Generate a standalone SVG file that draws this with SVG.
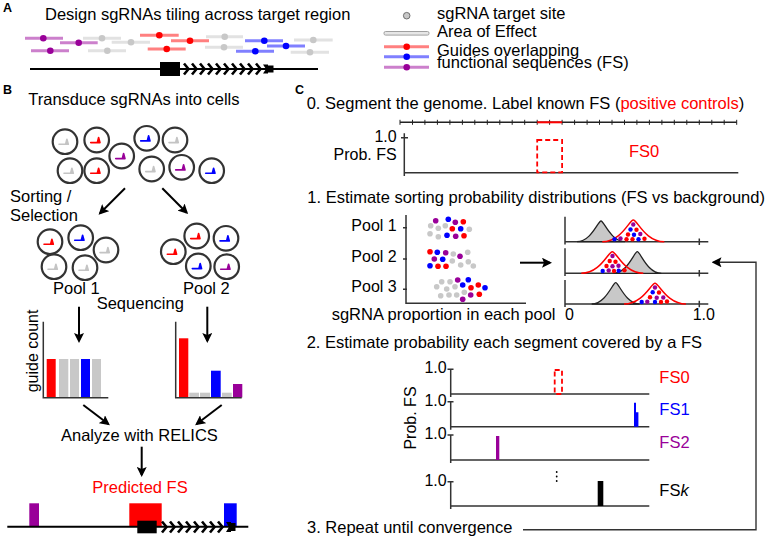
<svg xmlns="http://www.w3.org/2000/svg" xmlns:xlink="http://www.w3.org/1999/xlink" width="768" height="539" viewBox="0 0 768 539">
<defs>
<style>
text{font-family:"Liberation Sans",Arial,sans-serif;font-size:16.5px;fill:#000}
.lab{font-weight:bold;font-size:12.5px}
.sm{font-size:16px}
.ax{stroke:#333;stroke-width:1.5;fill:none}
.cell{fill:#fff;stroke:#333;stroke-width:2.2}
.r{color:#ff0000}.b{color:#0000ff}.p{color:#990099}.g{color:#c4c4c4}
.dr{fill:#ff0000}.db{fill:#0000ff}.dp{fill:#990099}.dg{fill:#c8c8c8}
.lr{stroke:#ff8080}.lb{stroke:#8080ff}.lp{stroke:#cc80cc}.lg{stroke:#e2e2e2}
.gl line{stroke-width:3}
.arr{stroke:#000;stroke-width:2;fill:none;marker-end:url(#ah)}
.dash{fill:none;stroke:#ff0000;stroke-width:1.8;stroke-dasharray:5,3}
.gray{fill:#c8c8c8;stroke:#222;stroke-width:1.3}
.redc{fill:none;stroke:#ff0000;stroke-width:1.5}
</style>
<marker id="ah" viewBox="0 0 10 10" refX="8" refY="5" markerWidth="10" markerHeight="10" markerUnits="userSpaceOnUse" orient="auto">
<path d="M0,0 L10,5 L0,10 L2,5 z" fill="#000"/>
</marker>
<g id="gl"><path d="M-6,2.3 H0.6 L1.9,-2.8 L3.3,2.3 z" fill="currentColor" stroke="currentColor" stroke-width="1.6" stroke-linejoin="round"/></g>
<g id="chev"><path d="M0,-5.5 L4.5,0 L0,5.5" fill="none" stroke="#000" stroke-width="2.6"/></g>
</defs>

<text class="lab" x="3" y="11.7">A</text>
<text class="lab" x="3" y="94">B</text>
<text class="lab" x="295" y="94">C</text>

<g id="panelA">
<text x="45" y="19.5">Design sgRNAs tiling across target region</text>
<g id="guidesA" class="gl">
<line class="lp" x1="25" y1="38.3" x2="63" y2="38.3"/><circle class="dp" cx="43.3" cy="38.3" r="3.3"/>
<line class="lp" x1="60" y1="42.7" x2="97.7" y2="42.7"/><circle class="dp" cx="78.7" cy="42.7" r="3.3"/>
<line class="lp" x1="31" y1="50.7" x2="69" y2="50.7"/><circle class="dp" cx="50.3" cy="50.7" r="3.3"/>
<line class="lg" x1="83" y1="38.3" x2="121" y2="38.3"/><circle class="dg" cx="102" cy="38.3" r="3.3"/>
<line class="lg" x1="111.7" y1="42.3" x2="150" y2="42.3"/><circle class="dg" cx="131" cy="42.3" r="3.3"/>
<line class="lg" x1="88" y1="50.7" x2="126" y2="50.7"/><circle class="dg" cx="107.3" cy="50.7" r="3.3"/>
<line class="lr" x1="140" y1="35.3" x2="178.7" y2="35.3"/><circle class="dr" cx="159.3" cy="35.3" r="3.3"/>
<line class="lr" x1="171" y1="40.7" x2="209" y2="40.7"/><circle class="dr" cx="190" cy="40.7" r="3.3"/>
<line class="lr" x1="147.7" y1="49" x2="185.7" y2="49"/><circle class="dr" cx="166.7" cy="49" r="3.3"/>
<line class="lg" x1="206" y1="36.7" x2="243" y2="36.7"/><circle class="dg" cx="224.7" cy="36.7" r="3.3"/>
<line class="lg" x1="205" y1="47.3" x2="243" y2="47.3"/><circle class="dg" cx="224" cy="47.3" r="3.3"/>
<line class="lb" x1="245" y1="40.7" x2="283" y2="40.7"/><circle class="db" cx="264.3" cy="40.7" r="3.3"/>
<line class="lb" x1="267" y1="46" x2="305" y2="46"/><circle class="db" cx="286" cy="46" r="3.3"/>
<line class="lb" x1="236" y1="51.3" x2="274" y2="51.3"/><circle class="db" cx="255.3" cy="51.3" r="3.3"/>
<line class="lg" x1="294" y1="40" x2="332.7" y2="40"/><circle class="dg" cx="313.3" cy="40" r="3.3"/>
<line class="lg" x1="290.7" y1="52.3" x2="329" y2="52.3"/><circle class="dg" cx="310" cy="52.3" r="3.3"/>
</g>
<g id="geneA">
<line x1="30" y1="69" x2="318" y2="69" stroke="#000" stroke-width="2"/>
<rect x="160" y="62" width="20" height="14" fill="#000"/>
<use href="#chev" x="184" y="69"/><use href="#chev" x="192" y="69"/><use href="#chev" x="200" y="69"/><use href="#chev" x="208" y="69"/><use href="#chev" x="216" y="69"/><use href="#chev" x="224" y="69"/><use href="#chev" x="232" y="69"/><use href="#chev" x="240" y="69"/><use href="#chev" x="248" y="69"/><use href="#chev" x="256" y="69"/>
<path d="M263,64.5 L268,64.5 L268,65.5 L273.5,65.5 L273.5,72.5 L268,72.5 L268,73.5 L263,73.5 L266,69 z" fill="#000"/>
</g>
</g>

<g id="legend">
<circle cx="406.7" cy="15.7" r="3.3" fill="#c8c8c8" stroke="#555" stroke-width="0.8"/>
<text x="437" y="18.5">sgRNA target site</text>
<rect x="384" y="31.5" width="45" height="3.6" rx="1.5" fill="#e6e6e6" stroke="#a0a0a0" stroke-width="1"/>
<text x="437" y="36.7">Area of Effect</text>
<line class="lr" x1="384" y1="46.7" x2="429" y2="46.7" stroke-width="3"/><circle class="dr" cx="406.7" cy="46.7" r="3.3"/>
<line class="lb" x1="384" y1="56.7" x2="429" y2="56.7" stroke-width="3"/><circle class="db" cx="406.7" cy="56.7" r="3.3"/>
<line class="lp" x1="384" y1="67.3" x2="429" y2="67.3" stroke-width="3"/><circle class="dp" cx="406.7" cy="67.3" r="3.3"/>
<text x="437" y="56">Guides overlapping</text>
<text x="437" y="68.3">functional sequences (FS)</text>
</g>

<g id="panelB">
<text x="28.3" y="105">Transduce sgRNAs into cells</text>
<g id="cellsTop">
<circle class="cell" cx="65" cy="141.7" r="12.3"/><use href="#gl" x="65" y="142" class="g"/>
<circle class="cell" cx="96.7" cy="140" r="12.3"/><use href="#gl" x="96.7" y="140.3" class="r"/>
<circle class="cell" cx="121.7" cy="156" r="12.3"/><use href="#gl" x="121.7" y="156.3" class="p"/>
<circle class="cell" cx="146.7" cy="138.3" r="12.3"/><use href="#gl" x="146.7" y="138.6" class="b"/>
<circle class="cell" cx="175" cy="140" r="12.3"/><use href="#gl" x="175" y="140.3" class="g"/>
<circle class="cell" cx="70" cy="170.7" r="12.3"/><use href="#gl" x="70" y="171" class="g"/>
<circle class="cell" cx="96.7" cy="170.7" r="12.3"/><use href="#gl" x="96.7" y="171" class="r"/>
<circle class="cell" cx="151.7" cy="169" r="12.3"/><use href="#gl" x="151.7" y="169.3" class="g"/>
<circle class="cell" cx="181.7" cy="167.3" r="12.3"/><use href="#gl" x="181.7" y="167.6" class="p"/>
<circle class="cell" cx="211.7" cy="170.7" r="12.3"/><use href="#gl" x="211.7" y="171" class="b"/>
</g>
<text x="10" y="201.7">Sorting /</text>
<text x="10" y="220.7">Selection</text>
<g id="pool1">
<circle class="cell" cx="50" cy="241.7" r="12.3"/><use href="#gl" x="50" y="242" class="r"/>
<circle class="cell" cx="80.7" cy="237.7" r="12.3"/><use href="#gl" x="80.7" y="238" class="b"/>
<circle class="cell" cx="106" cy="250" r="12.3"/><use href="#gl" x="106" y="250.3" class="g"/>
<circle class="cell" cx="54" cy="266.7" r="12.3"/><use href="#gl" x="54" y="267" class="g"/>
<circle class="cell" cx="85" cy="267.7" r="12.3"/><use href="#gl" x="85" y="268" class="g"/>
</g>
<g id="pool2">
<circle class="cell" cx="173.3" cy="251.7" r="12.3"/><use href="#gl" x="173.3" y="252" class="r"/>
<circle class="cell" cx="196.7" cy="236" r="12.3"/><use href="#gl" x="196.7" y="236.3" class="r"/>
<circle class="cell" cx="226" cy="238.3" r="12.3"/><use href="#gl" x="226" y="238.6" class="b"/>
<circle class="cell" cx="198.3" cy="266" r="12.3"/><use href="#gl" x="198.3" y="266.3" class="b"/>
<circle class="cell" cx="226.7" cy="266.7" r="12.3"/><use href="#gl" x="226.7" y="267" class="p"/>
</g>
<text x="53" y="294">Pool 1</text>
<text x="183" y="294">Pool 2</text>
<text x="96.7" y="309.3">Sequencing</text>
<g id="chart1">
<rect x="46.7" y="359" width="9" height="38.5" fill="#ff0000"/>
<rect x="59" y="359" width="9.3" height="38.5" fill="#c8c8c8"/>
<rect x="70" y="359" width="9" height="38.5" fill="#c8c8c8"/>
<rect x="81" y="359" width="9" height="38.5" fill="#0000ff"/>
<rect x="92" y="359" width="9" height="38.5" fill="#c8c8c8"/>
<path class="ax" d="M43.3,321.7 V397.7 H108.3" stroke-width="2"/>
<text class="sm" transform="translate(37.5,351) rotate(-90)" text-anchor="middle">guide count</text>
</g>
<g id="chart2">
<rect x="179" y="338.3" width="9.3" height="59.2" fill="#ff0000"/>
<rect x="189.3" y="392.7" width="9.7" height="4.8" fill="#c8c8c8"/>
<rect x="200" y="392.7" width="10" height="4.8" fill="#c8c8c8"/>
<rect x="211" y="370.7" width="9.7" height="26.8" fill="#0000ff"/>
<rect x="222" y="392.7" width="9.7" height="4.8" fill="#c8c8c8"/>
<rect x="233" y="384" width="9.3" height="13.5" fill="#990099"/>
<path class="ax" d="M175.7,321.7 V397.7 H241.7" stroke-width="2"/>
</g>
<text x="61" y="440.7">Analyze with RELICS</text>
<text x="92.3" y="492.7" fill="#ff0000" style="fill:#ff0000">Predicted FS</text>
<g id="geneB">
<rect x="29.3" y="503.3" width="9.7" height="23.4" fill="#990099"/>
<rect x="129.3" y="503.3" width="32.4" height="23.4" fill="#ff0000"/>
<rect x="224" y="503.3" width="12.7" height="23.4" fill="#0000ff"/>
<line x1="7.3" y1="526.7" x2="248.3" y2="526.7" stroke="#000" stroke-width="2"/>
<rect x="137.3" y="520.7" width="19.4" height="12.6" fill="#000"/>
<use href="#chev" x="162" y="527"/><use href="#chev" x="170" y="527"/><use href="#chev" x="178" y="527"/><use href="#chev" x="186" y="527"/><use href="#chev" x="194" y="527"/><use href="#chev" x="202" y="527"/><use href="#chev" x="210" y="527"/><use href="#chev" x="218" y="527"/>
<path d="M226,522 L231,522 L231,523 L235.5,523 L235.5,531 L231,531 L231,532 L226,532 L229,527 z" fill="#000"/>
</g>
</g>

<g id="panelC">
<text x="306.7" y="109">0. Segment the genome. Label known FS (<tspan style="fill:#ff0000">positive controls</tspan>)</text>
<g id="segments">
<line x1="400" y1="122.3" x2="736.7" y2="122.3" stroke="#222" stroke-width="1.5"/>
<path stroke="#222" stroke-width="1" d="M400,119.8v5M412.5,119.8v5M424.9,119.8v5M437.4,119.8v5M449.9,119.8v5M462.4,119.8v5M474.8,119.8v5M487.3,119.8v5M499.8,119.8v5M512.2,119.8v5M524.7,119.8v5M537.2,119.8v5M549.6,119.8v5M562.1,119.8v5M574.6,119.8v5M587.1,119.8v5M599.5,119.8v5M612,119.8v5M624.5,119.8v5M636.9,119.8v5M649.4,119.8v5M661.9,119.8v5M674.3,119.8v5M686.8,119.8v5M699.3,119.8v5M711.8,119.8v5M724.2,119.8v5M736.7,119.8v5"/>
<line x1="537.2" y1="122.3" x2="562.1" y2="122.3" stroke="#ff0000" stroke-width="2"/>
</g>
<g id="prob0">
<path class="ax" d="M404.3,133.3 V176 M401,137.7 H408 M404.3,172.7 H738.3"/>
<rect class="dash" x="537.2" y="140" width="24.9" height="32.3"/>
<text class="sm" x="396.7" y="142.3" text-anchor="end">1.0</text>
<text class="sm" x="396.7" y="160" text-anchor="end">Prob. FS</text>
<text x="629" y="156.7" style="fill:#ff0000">FS0</text>
</g>

<text x="307.3" y="203.3">1. Estimate sorting probability distributions (FS vs background)</text>
<g id="pools">
<text class="sm" x="396.7" y="230.7" text-anchor="end">Pool 1</text>
<text class="sm" x="396.7" y="261.7" text-anchor="end">Pool 2</text>
<text class="sm" x="396.7" y="292.3" text-anchor="end">Pool 3</text>
<path class="ax" d="M406,215 V303.3 H526 M403,227.7 H407 M403,259 H407 M403,289.3 H407"/>
<g id="dots1">
<circle class="dp" cx="435.7" cy="220.7" r="2.8"/><circle class="db" cx="448.3" cy="219.3" r="2.8"/><circle class="dp" cx="455.3" cy="222.3" r="2.8"/><circle class="dr" cx="463.3" cy="221.7" r="2.8"/>
<circle class="dg" cx="430.7" cy="225.7" r="2.8"/><circle class="dg" cx="438.3" cy="228.3" r="2.8"/><circle class="dg" cx="445.3" cy="225.7" r="2.8"/><circle class="dr" cx="452.3" cy="228.7" r="2.8"/><circle class="db" cx="460.7" cy="228.7" r="2.8"/><circle class="dg" cx="469.3" cy="229.3" r="2.8"/>
<circle class="dg" cx="430" cy="233.7" r="2.8"/><circle class="dg" cx="438.3" cy="236.7" r="2.8"/><circle class="db" cx="447" cy="235.3" r="2.8"/><circle class="dp" cx="455.7" cy="236.3" r="2.8"/><circle class="dr" cx="464" cy="235.7" r="2.8"/>
</g>
<g id="dots2">
<circle class="dr" cx="430" cy="251.7" r="2.8"/><circle class="db" cx="437.3" cy="252.3" r="2.8"/><circle class="dp" cx="445.7" cy="252.7" r="2.8"/><circle class="dg" cx="453.3" cy="254" r="2.8"/><circle class="dp" cx="460" cy="256.3" r="2.8"/><circle class="dg" cx="467.7" cy="252.3" r="2.8"/>
<circle class="dp" cx="434.3" cy="259" r="2.8"/><circle class="db" cx="442.7" cy="259.3" r="2.8"/><circle class="dg" cx="452.3" cy="261" r="2.8"/><circle class="dg" cx="468.3" cy="261.7" r="2.8"/><circle class="dg" cx="473.3" cy="266" r="2.8"/>
<circle class="db" cx="430" cy="265.7" r="2.8"/><circle class="dr" cx="438" cy="266.3" r="2.8"/><circle class="dr" cx="446" cy="266.3" r="2.8"/><circle class="dg" cx="460.7" cy="265" r="2.8"/>
</g>
<g id="dots3">
<circle class="dg" cx="441.7" cy="281.7" r="2.8"/><circle class="dg" cx="450" cy="281.7" r="2.8"/><circle class="dp" cx="457.7" cy="280" r="2.8"/><circle class="db" cx="468.3" cy="279.7" r="2.8"/>
<circle class="dg" cx="436.7" cy="286.7" r="2.8"/><circle class="dg" cx="446.7" cy="289" r="2.8"/><circle class="dg" cx="455" cy="286.7" r="2.8"/><circle class="db" cx="462.7" cy="285" r="2.8"/><circle class="dr" cx="471" cy="287.7" r="2.8"/><circle class="dr" cx="478.3" cy="285" r="2.8"/><circle class="db" cx="485" cy="287.7" r="2.8"/>
<circle class="dg" cx="440.7" cy="295.7" r="2.8"/><circle class="dg" cx="449" cy="295" r="2.8"/><circle class="dg" cx="456.7" cy="295" r="2.8"/><circle class="dg" cx="464.3" cy="292.3" r="2.8"/><circle class="dp" cx="470.7" cy="295" r="2.8"/><circle class="dr" cx="479.3" cy="294.3" r="2.8"/><circle class="dp" cx="462.7" cy="299.3" r="2.8"/>
</g>
<text x="331.7" y="320">sgRNA proportion in each pool</text>
</g>
<g id="dists">
<path class="ax" d="M565,216.7 V244.5 M565,241.7 H708.3 M699.3,238.5 V245"/>
<path class="ax" d="M565,248.3 V276 M565,273.3 H708.3 M699.3,270 V276.5"/>
<path class="ax" d="M565,280 V307 M565,304 H708.3 M699.3,300.8 V307.3"/>
<path class="gray" d="M577,241.7 C591,241.7 598,221 601,221 C604,221 611,241.7 625,241.7 Z"/>
<path class="redc" d="M602.3,241.7 C621.3,241.7 629.3,220 633.3,220 C637.3,220 645.3,241.7 664.3,241.7"/>
<path class="gray" d="M613.3,273.3 C627.3,273.3 634.3,251.7 637.3,251.7 C640.3,251.7 647.3,273.3 661.3,273.3 Z"/>
<path class="redc" d="M581.3,273.3 C600.3,273.3 608.3,251.7 612.3,251.7 C616.3,251.7 624.3,273.3 643.3,273.3"/>
<path class="gray" d="M591.7,304 C605.7,304 612.7,282.7 615.7,282.7 C618.7,282.7 625.7,304 639.7,304 Z"/>
<path class="redc" d="M624,304 C643,304 651,283.3 655,283.3 C659,283.3 667,304 686,304"/>
<g id="pk1">
<circle class="dp" cx="633.3" cy="224.5" r="2.2"/>
<circle class="db" cx="630.5" cy="229.5" r="2.2"/><circle class="dr" cx="636.5" cy="229.8" r="2.2"/>
<circle class="dr" cx="628" cy="234.5" r="2.2"/><circle class="db" cx="634" cy="234.8" r="2.2"/><circle class="dp" cx="640.3" cy="234" r="2.2"/>
<circle class="db" cx="614.5" cy="239.3" r="2.2"/><circle class="dp" cx="620.5" cy="238.5" r="2.2"/><circle class="dr" cx="626.5" cy="239.3" r="2.2"/><circle class="dr" cx="632.5" cy="239.3" r="2.2"/><circle class="db" cx="638.5" cy="239.3" r="2.2"/><circle class="dr" cx="644.5" cy="238.7" r="2.2"/>
</g>
<g id="pk2">
<circle class="dp" cx="612.5" cy="256" r="2.2"/>
<circle class="dr" cx="609.7" cy="261" r="2.2"/><circle class="dr" cx="615.5" cy="261.8" r="2.2"/>
<circle class="dr" cx="606.5" cy="266" r="2.2"/><circle class="dp" cx="612.5" cy="266.3" r="2.2"/><circle class="dp" cx="618.5" cy="265.7" r="2.2"/>
<circle class="db" cx="602.7" cy="271" r="2.2"/><circle class="dp" cx="608.7" cy="270.5" r="2.2"/><circle class="dr" cx="614" cy="271" r="2.2"/><circle class="db" cx="618.7" cy="270.8" r="2.2"/><circle class="dr" cx="624.5" cy="270.3" r="2.2"/>
</g>
<g id="pk3">
<circle class="dp" cx="655" cy="287.5" r="2.2"/>
<circle class="db" cx="652.7" cy="292.3" r="2.2"/><circle class="dr" cx="659" cy="292.5" r="2.2"/>
<circle class="dr" cx="650" cy="297.2" r="2.2"/><circle class="dp" cx="656.7" cy="297.7" r="2.2"/><circle class="dp" cx="663.3" cy="297.5" r="2.2"/>
<circle class="db" cx="641.7" cy="302" r="2.2"/><circle class="dp" cx="647.3" cy="301.7" r="2.2"/><circle class="db" cx="655" cy="302" r="2.2"/><circle class="dr" cx="661" cy="302" r="2.2"/><circle class="dr" cx="667" cy="301.5" r="2.2"/>
</g>
<text class="sm" x="565" y="320">0</text>
<text class="sm" x="692.7" y="320">1.0</text>
</g>

<text x="306.7" y="348.3">2. Estimate probability each segment covered by a FS</text>
<g id="tracks">
<path class="ax" d="M450.7,369.3 V397 M447.5,369.3 H453.5 M450.7,394 H649.3"/>
<path class="ax" d="M450.7,401.7 V429.7 M447.5,401.7 H453.5 M450.7,426.7 H649.3"/>
<path class="ax" d="M450.7,435 V463 M447.5,435 H453.5 M450.7,460 H649.3"/>
<path class="ax" d="M450.7,481.7 V509 M447.5,481.7 H453.5 M450.7,506 H649.3"/>
<text class="sm" x="446.7" y="373.3" text-anchor="end">1.0</text>
<text class="sm" x="446.7" y="406" text-anchor="end">1.0</text>
<text class="sm" x="446.7" y="439.3" text-anchor="end">1.0</text>
<text class="sm" x="446.7" y="486" text-anchor="end">1.0</text>
<text class="sm" transform="translate(416,418) rotate(-90)" text-anchor="middle">Prob. FS</text>
<rect class="dash" x="554.7" y="370" width="7.3" height="24" stroke-dasharray="4,2"/>
<path d="M634,402.7 H636 V412.3 H638.4 V426.7 H634 Z" fill="#0000ff"/>
<rect x="496" y="436" width="3.3" height="24" fill="#990099"/>
<rect x="597.7" y="481" width="5.6" height="25" fill="#000"/>
<circle cx="556.7" cy="472" r="0.9" fill="#000"/><circle cx="556.7" cy="476.5" r="0.9" fill="#000"/><circle cx="556.7" cy="481" r="0.9" fill="#000"/>
<text x="659.3" y="382.7" style="fill:#ff0000">FS0</text>
<text x="659.3" y="415" style="fill:#0000ff">FS1</text>
<text x="659.3" y="448.3" style="fill:#990099">FS2</text>
<text x="659.3" y="495.7">FS<tspan font-style="italic">k</tspan></text>
</g>
<text x="307" y="533.3">3. Repeat until convergence</text>
</g>

<g id="connectors">
<line class="arr" x1="125" y1="188.3" x2="100" y2="213.3"/>
<line class="arr" x1="162.3" y1="188.3" x2="186.7" y2="212.7"/>
<line class="arr" x1="79" y1="306.7" x2="79" y2="341"/>
<line class="arr" x1="207.3" y1="306.7" x2="207.3" y2="341"/>
<line class="arr" x1="83.3" y1="405" x2="108.3" y2="424"/>
<line class="arr" x1="221.7" y1="405" x2="196.7" y2="424"/>
<line class="arr" x1="141.7" y1="446.7" x2="141.7" y2="475"/>
<line class="arr" x1="520" y1="262.7" x2="550" y2="262.7"/>
<path d="M523,529.7 H756 V262.3 H713.5" fill="none" stroke="#333" stroke-width="1.4" marker-end="url(#ah)"/>
</g>
</svg>
